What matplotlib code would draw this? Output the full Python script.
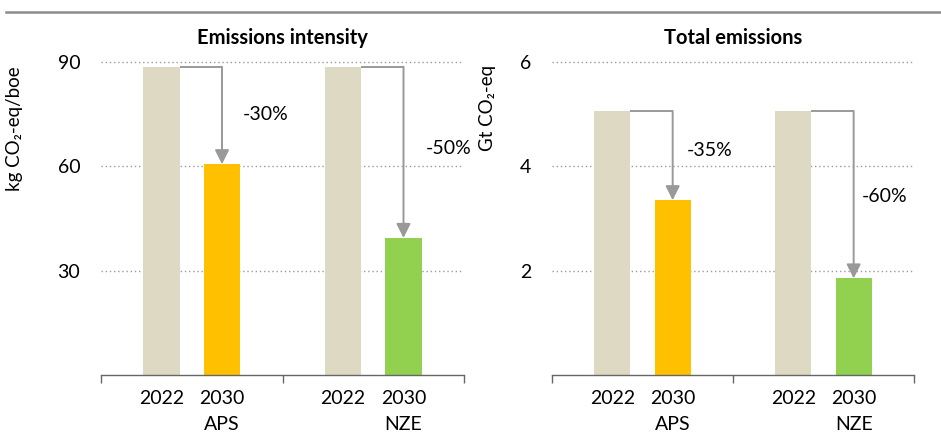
import matplotlib.pyplot as plt
from matplotlib.lines import Line2D
from matplotlib.ticker import FixedLocator

plt.rcParams['font.family'] = ['Lato', 'DejaVu Sans']

# Data
years = ['2022', '2030', '2022', '2030']
scenarios = ['APS', 'NZE']
intensity = [88.6, 60.6, 88.6, 39.4]      # kg CO2-eq/boe
total = [5.06, 3.35, 5.06, 1.85]          # Gt CO2-eq
intensity_change = ['-30%', '-50%']
total_change = ['-35%', '-60%']

colors = ['#DDD9C3', '#FFC000', '#DDD9C3', '#92D050']
positions = [1, 2, 4, 5]
grid_col = '#9a9a9a'
arrow_col = '#999999'

fig = plt.figure(figsize=(9.41, 4.33), dpi=100)
ax1 = fig.add_axes([101 / 941, 58 / 433, 363 / 941, 320 / 433])
ax2 = fig.add_axes([552 / 941, 58 / 433, 362 / 941, 320 / 433])

# gray rule across the top
fig.add_artist(Line2D([6 / 941, 1], [1 - 12 / 433, 1 - 12 / 433],
                      color='#8c8c8c', lw=1.8, transform=fig.transFigure))


def draw_panel(ax, values, changes, title, ylabel, yticks, ytop,
               label_pos, ylabel_xy):
    ax.bar(positions, values, width=0.6, color=colors, zorder=2)
    ax.set_xlim(0, 6)
    ax.set_ylim(0, ytop)
    ax.set_yticks(yticks)
    ax.set_yticklabels([str(t) for t in yticks])
    ax.grid(axis='y', color=grid_col, linestyle=(0, (1, 2)), lw=1.0)
    ax.set_axisbelow(True)
    for s in ['top', 'right', 'left']:
        ax.spines[s].set_visible(False)
    ax.spines['bottom'].set_color('#666666')
    ax.spines['bottom'].set_linewidth(1.0)
    ax.tick_params(axis='y', length=0, pad=15, labelsize=14)
    ax.set_xticks(positions)
    ax.set_xticklabels(years)
    ax.xaxis.set_minor_locator(FixedLocator([0, 3, 6]))
    ax.tick_params(axis='x', which='major', length=0, pad=11, labelsize=14)
    ax.tick_params(axis='x', which='minor', length=6, width=1.0,
                   color='#666666')
    for i, sc in enumerate(scenarios):
        ax.text(positions[2 * i + 1], -0.155, sc, fontsize=14,
                ha='center', va='center',
                transform=ax.get_xaxis_transform())
    ax.set_title(title, fontsize=14.5, fontweight='bold', pad=8)
    ax.set_ylabel(ylabel, fontsize=13.5)
    ax.yaxis.set_label_coords(*ylabel_xy)

    # reduction arrows
    for i in range(2):
        x0 = positions[2 * i]
        x1 = positions[2 * i + 1]
        v0 = values[2 * i]
        v1 = values[2 * i + 1]
        ax.plot([x0 + 0.3, x1], [v0, v0], color=arrow_col, lw=1.4,
                solid_capstyle='butt', zorder=3)
        ax.annotate('', xy=(x1, v1), xytext=(x1, v0),
                    arrowprops=dict(arrowstyle='-|>,head_length=0.86,head_width=0.43',
                                    mutation_scale=10, color=arrow_col, lw=1.4,
                                    shrinkA=0, shrinkB=0), zorder=3)
        lx, ly = label_pos[i]
        ax.text(lx, ly, changes[i], fontsize=14, ha='left', va='center')


draw_panel(ax1, intensity, intensity_change, 'Emissions intensity',
           'kg CO₂-eq/boe', [30, 60, 90], 92,
           [(2.35, 75), (5.36, 65.0)], (-0.215, 0.77))
draw_panel(ax2, total, total_change, 'Total emissions',
           'Gt CO₂-eq', [2, 4, 6], 92 / 15,
           [(2.24, 4.31), (5.14, 3.42)], (-0.155, 0.835))

fig.savefig('out.png', dpi=100)
